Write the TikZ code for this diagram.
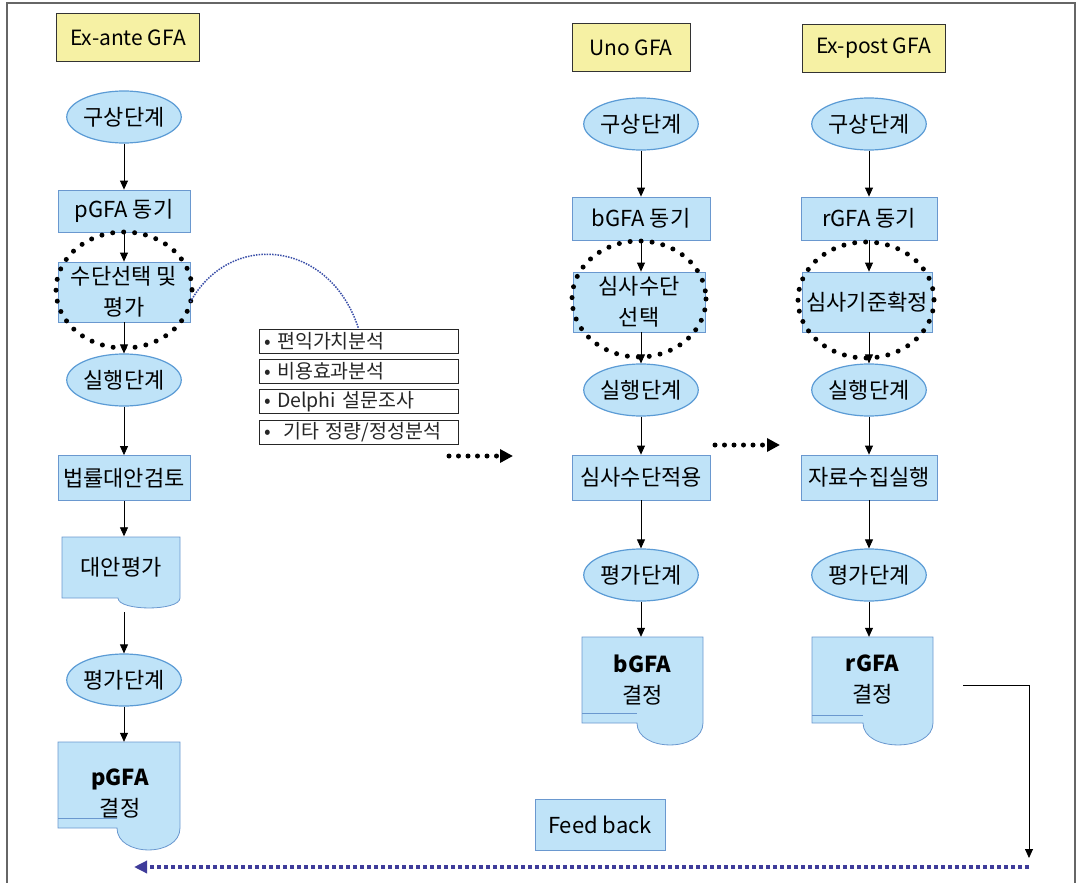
\documentclass[tikz,border=0pt]{standalone}
\usepackage{fontspec}
\setmainfont{Noto Sans CJK KR}
\usetikzlibrary{arrows.meta,calc,shapes.geometric}

\definecolor{boxblue}{HTML}{BFE3F8}
\definecolor{edgeblue}{HTML}{6A98CF}
\definecolor{ellblue}{HTML}{5B9BD5}
\definecolor{labelyellow}{HTML}{F6F1A4}
\definecolor{fbnavy}{HTML}{3F3C9A}
\definecolor{curveblue}{HTML}{3A4FA8}

\tikzset{
  every node/.style={font=\fontsize{22}{31}\selectfont, align=center, inner sep=0pt},
  phase/.style={draw=black!80, line width=1pt, fill=labelyellow,
    minimum height=48pt, font=\fontsize{21}{24}\selectfont},
  stage/.style={ellipse, draw=ellblue, line width=1.2pt, fill=boxblue,
    minimum width=112pt, minimum height=52pt},
  stepbox/.style={draw=edgeblue, line width=0.8pt, fill=boxblue},
  docline/.style={draw=edgeblue, line width=0.8pt, fill=boxblue},
  method/.style={draw=black!85, line width=1pt, minimum width=199pt,
    minimum height=24pt, text width=189pt, align=left,
    font=\fontsize{19.5}{21}\selectfont, text=black!85},
  flow/.style={-{Triangle[length=9pt,width=8pt]}, line width=0.8pt},
  focus/.style={draw=black, line width=5pt, line cap=round,
    dash pattern=on 0pt off 11pt},
  jump/.style={-{Triangle[length=13pt,width=13pt]}, line width=5pt,
    line cap=round, dash pattern=on 0pt off 9.5pt},
  loopback/.style={draw=fbnavy, line width=4pt, dash pattern=on 4pt off 3pt,
    -{Triangle[length=13pt,width=12pt]}},
}

% document-like box: left x, right x, top y, flat bottom y, bulge start x, bulge depth
\newcommand{\docshape}[6]{%
  \filldraw[docline] (#1,#3) -- (#2,#3) -- (#2,#4)
    .. controls (#2,{#4+#6*1.33}) and (#5,{#4+#6*1.33}) .. (#5,#4)
    -- (#1,#4) -- cycle;}

\begin{document}
\begin{tikzpicture}[x=1pt,y=-1pt]
\useasboundingbox (0,0) rectangle (1077,883);

% outer frame
\draw[black!60, line width=1.5pt] (7,883) -- (7,3) -- (1075,3) -- (1075,883);

% ---------- Ex-ante column ----------
\node[phase, minimum width=143pt] (exante) at (128,38) {Ex-ante GFA};
\node[stage] (c1a) at (124,117) {구상단계};
\node[stepbox, minimum width=132pt, minimum height=42pt] (c1b) at (124,211) {pGFA 동기};
\node[stepbox, minimum width=132pt, minimum height=60pt] (c1c) at (124,292) {수단선택 및\\평가};
\node[stage] (c1e) at (124,380) {실행단계};
\node[stepbox, minimum width=132pt, minimum height=45pt] (c1f) at (124,478) {법률대안검토};
\docshape{62}{180}{537}{598}{118}{10}
\node[minimum width=118pt, minimum height=61pt] (c1g) at (121,567) {대안평가};
\coordinate (c1gout) at (124,612);
\node[stage] (c1h) at (124,680) {평가단계};
\docshape{58}{180}{742}{828}{117}{22}
\draw[edgeblue, line width=0.8pt] (58,818) -- (117,818);
\node[minimum width=122pt, minimum height=86pt] (c1i) at (119,785) {};
\node (c1itext) at (120,794) {\textbf{pGFA}\\결정};

\draw[flow] (c1a) -- (c1b);
\draw[flow] (c1b) -- (c1c);
\draw[flow] (c1c) -- (c1e);
\draw[flow] (c1e) -- (c1f);
\draw[flow] (c1f.south) -- (c1f.south |- c1g.north);
\draw[flow] (c1gout) -- (c1h);
\draw[flow] (c1h.south) -- (c1h.south |- c1i.north);
\draw[focus] (124,290) ellipse [x radius=68, y radius=58];

% ---------- evaluation methods ----------
\node[method] (m1) at (358.5,341) {• 편익가치분석};
\node[method] (m2) at (358.5,371.5) {• 비용효과분석};
\node[method] (m3) at (358.5,401.5) {• Delphi 설문조사};
\node[method] (m4) at (358.5,432.5) {•\ \ 기타 정량/정성분석};
\draw[curveblue, line width=1.5pt, dash pattern=on 1.5pt off 1.2pt]
  ([yshift=-10pt]c1c.east) .. controls (230,230) and (330,240) .. (m1.north);

\coordinate (j1a) at (449,456);
\coordinate (j1b) at (513,456);
\draw[jump] (j1a) -- (j1b);

% ---------- Uno column ----------
\node[phase, minimum width=118pt] (uno) at (631,48) {Uno GFA};
\node[stage] (c2a) at (641,124) {구상단계};
\node[stepbox, minimum width=138pt, minimum height=43pt] (c2b) at (641,218.5) {bGFA 동기};
\node[stepbox, minimum width=132pt, minimum height=60pt] (c2c) at (639,302) {심사수단\\선택};
\node[stage] (c2e) at (641,390) {실행단계};
\node[stepbox, minimum width=138pt, minimum height=45pt] (c2f) at (641,477.5) {심사수단적용};
\node[stage] (c2g) at (641,575) {평가단계};
\docshape{582}{703}{637}{723}{637}{22}
\draw[edgeblue, line width=0.8pt] (582,713) -- (637,713);
\node[minimum width=121pt, minimum height=86pt] (c2h) at (642.5,680) {\textbf{bGFA}\\결정};

\draw[flow] (c2a) -- (c2b);
\draw[flow] (c2b.south) -- (c2b.south |- c2c.north);
\draw[flow] (c2c.south -| c2e.north) -- (c2e.north);
\draw[flow] (c2e) -- (c2f);
\draw[flow] (c2f) -- (c2g);
\draw[flow] (c2g.south) -- (c2g.south |- c2h.north);
\draw[focus] (639,299) ellipse [x radius=67, y radius=58];

\coordinate (j2a) at (715,445);
\coordinate (j2b) at (780,445);
\draw[jump] (j2a) -- (j2b);

% ---------- Ex-post column ----------
\node[phase, minimum width=143pt] (expost) at (873.5,48.5) {Ex-post GFA};
\node[stage] (c3a) at (869,124) {구상단계};
\node[stepbox, minimum width=136pt, minimum height=43pt] (c3b) at (869,218.5) {rGFA 동기};
\node[stepbox, minimum width=130pt, minimum height=60pt] (c3c) at (867,302) {심사기준확정};
\node[stage] (c3e) at (869,390) {실행단계};
\node[stepbox, minimum width=136pt, minimum height=45pt] (c3f) at (869,477.5) {자료수집실행};
\node[stage] (c3g) at (869,575) {평가단계};
\docshape{812}{933}{637}{723}{863}{22}
\draw[edgeblue, line width=0.8pt] (812,715) -- (863,715);
\node[minimum width=121pt, minimum height=86pt] (c3h) at (872.5,680) {\textbf{rGFA}\\결정};

\draw[flow] (c3a) -- (c3b);
\draw[flow] (c3b.south) -- (c3b.south |- c3c.north);
\draw[flow] (c3c.south -| c3e.north) -- (c3e.north);
\draw[flow] (c3e) -- (c3f);
\draw[flow] (c3f) -- (c3g);
\draw[flow] (c3g.south) -- (c3g.south |- c3h.north);
\draw[focus] (866,300) ellipse [x radius=68, y radius=58];

% ---------- feedback loop ----------
\coordinate (fbstart) at (963,685);
\coordinate (fbdown) at (1029,858);
\draw[flow] (fbstart) -| (fbdown);
\coordinate (fbright) at (1029,867);
\coordinate (fbleft) at (134,867);
\draw[loopback] (fbright) -- (fbleft);
\node[stepbox, minimum width=130pt, minimum height=51pt] (feedback) at (600,824.5) {Feed back};

\end{tikzpicture}
\end{document}
